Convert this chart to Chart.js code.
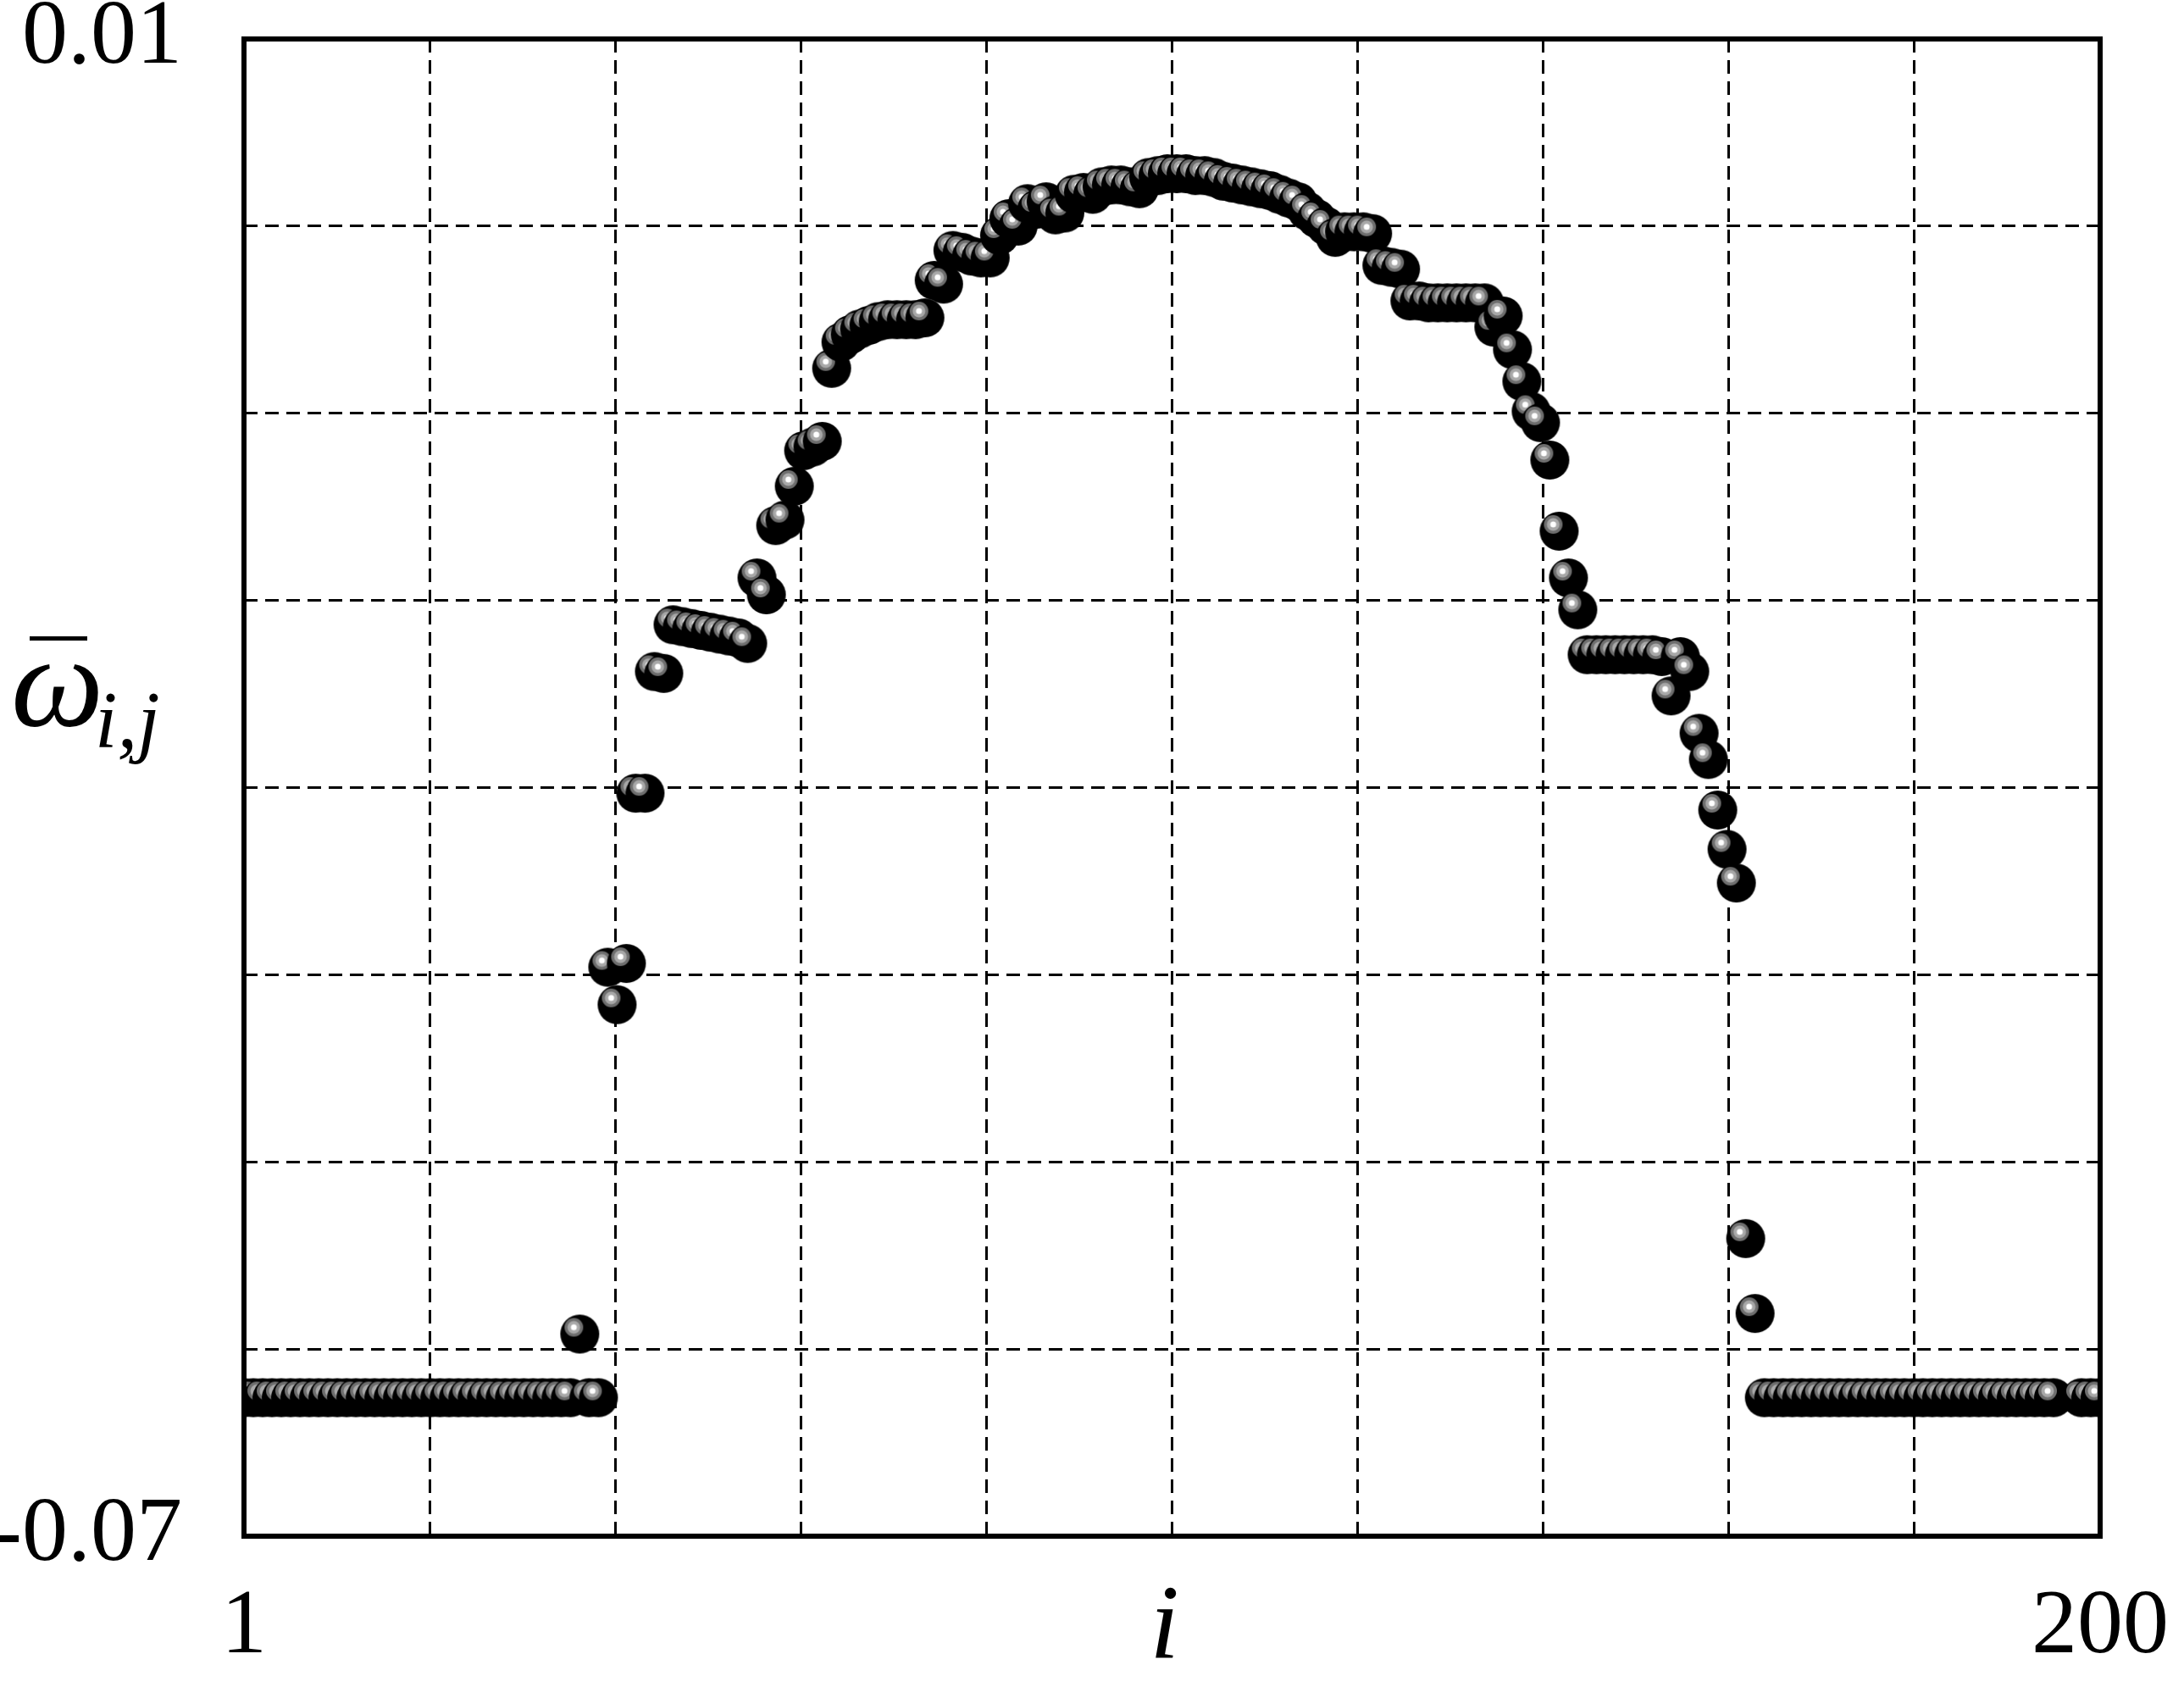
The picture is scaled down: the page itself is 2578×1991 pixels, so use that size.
<!DOCTYPE html>
<html>
<head>
<meta charset="utf-8">
<script src="https://cdn.jsdelivr.net/npm/chart.js@4.4.1/dist/chart.umd.min.js"></script>
<style>
  html, body { margin: 0; padding: 0; background: #fff; }
  #wrap { width: 2578px; height: 1991px; position: relative; }
</style>
</head>
<body>
<div id="wrap"><canvas id="chart"></canvas></div>
<script>
// omega_ij, index i = 1..200, split by region
// i = 1..36
const flatLeft = [
  -0.0626, -0.0626, -0.0626, -0.0626, -0.0626, -0.0626, -0.0626, -0.0626, -0.0626, -0.0626,
  -0.0626, -0.0626, -0.0626, -0.0626, -0.0626, -0.0626, -0.0626, -0.0626, -0.0626, -0.0626,
  -0.0626, -0.0626, -0.0626, -0.0626, -0.0626, -0.0626, -0.0626, -0.0626, -0.0626, -0.0626,
  -0.0626, -0.0626, -0.0626, -0.0626, -0.0626, -0.0626
];
// i = 37..81
const riseLeft = [
  -0.0592, -0.0626, -0.0626, -0.0396, -0.0416, -0.0394, -0.0303, -0.0303, -0.0238, -0.0239,
  -0.0213, -0.0214, -0.0215, -0.0216, -0.0217, -0.0218, -0.0219, -0.0220, -0.0223, -0.0188,
  -0.0197, -0.0160, -0.0157, -0.0139, -0.0120, -0.0118, -0.0115, -0.0076, -0.0062, -0.0058,
  -0.0055, -0.0053, -0.0051, -0.0050, -0.0050, -0.0050, -0.0050, -0.0049, -0.0029, -0.0031,
  -0.0013, -0.0014, -0.0016, -0.0017, -0.0017
];
// i = 82..136
const arcTop = [
  -0.0005, 0.0004, 0.0000, 0.0012, 0.0009, 0.0013, 0.0006, 0.0007, 0.0017, 0.0018,
  0.0017, 0.0021, 0.0022, 0.0022, 0.0021, 0.0020, 0.0026, 0.0027, 0.0028, 0.0028,
  0.0028, 0.0027, 0.0027, 0.0026, 0.0024, 0.0023, 0.0022, 0.0021, 0.0020, 0.0019,
  0.0017, 0.0015, 0.0013, 0.0008, 0.0004, 0.0000, -0.0006, -0.0003, -0.0003, -0.0003,
  -0.0004, -0.0021, -0.0022, -0.0023, -0.0040, -0.0040, -0.0041, -0.0041, -0.0041, -0.0041,
  -0.0041, -0.0041, -0.0041, -0.0054, -0.0048
];
// i = 137..163
const fallRight = [
  -0.0066, -0.0083, -0.0099, -0.0105, -0.0125, -0.0163, -0.0188, -0.0205, -0.0229, -0.0229,
  -0.0229, -0.0229, -0.0229, -0.0229, -0.0229, -0.0229, -0.0230, -0.0251, -0.0230, -0.0238,
  -0.0271, -0.0285, -0.0312, -0.0333, -0.0351, -0.0541, -0.0581
];
// i = 164..200 (196, 197 have no marker)
const flatRight = [
  -0.0626, -0.0626, -0.0626, -0.0626, -0.0626, -0.0626, -0.0626, -0.0626, -0.0626, -0.0626,
  -0.0626, -0.0626, -0.0626, -0.0626, -0.0626, -0.0626, -0.0626, -0.0626, -0.0626, -0.0626,
  -0.0626, -0.0626, -0.0626, -0.0626, -0.0626, -0.0626, -0.0626, -0.0626, -0.0626, -0.0626,
  -0.0626, -0.0626, null, null, -0.0626, -0.0626, -0.0626
];

const xTickValues = [1, 20.9, 40.8, 60.7, 80.6, 100.5, 120.4, 140.3, 160.2, 180.1, 200];
const yTickValues = [-0.07, -0.06, -0.05, -0.04, -0.03, -0.02, -0.01, 0, 0.01];

const omega = [].concat(flatLeft, riseLeft, arcTop, fallRight, flatRight);
const points = omega.map((v, k) => ({ x: k + 1, y: v }));

// black sphere with a grey/white highlight up-left
function makeBall(r) {
  const c = document.createElement('canvas');
  c.width = c.height = 2 * r + 2;
  const g = c.getContext('2d');
  const cx = r + 1, cy = r + 1;
  g.fillStyle = '#000';
  g.beginPath(); g.arc(cx, cy, r, 0, Math.PI * 2); g.fill();
  const hx = cx - 7, hy = cy - 8;
  [[11, '#6e6e6e'], [7.5, '#a8a8a8'], [3.5, '#ffffff']].forEach(([rr, col]) => {
    g.fillStyle = col;
    g.beginPath(); g.arc(hx, hy, rr, 0, Math.PI * 2); g.fill();
  });
  return c;
}
const ball = makeBall(23);

const FONT = '"Liberation Serif", "Times New Roman", serif';

const framePlugin = {
  id: 'frame',
  afterDatasetsDraw(chart) {
    const { ctx, chartArea: a } = chart;
    ctx.save();
    ctx.strokeStyle = '#000';
    ctx.lineWidth = 6;
    ctx.strokeRect(a.left, a.top, a.right - a.left, a.bottom - a.top);
    ctx.restore();
  }
};

const titlePlugin = {
  id: 'titles',
  afterDraw(chart) {
    const { ctx, chartArea: a } = chart;
    ctx.save();
    ctx.fillStyle = '#000';
    ctx.textBaseline = 'alphabetic';
    // y title: omega bar, subscript i,j
    ctx.font = 'italic 155px ' + FONT;
    ctx.fillText('ω', 13, 856);
    ctx.fillRect(35, 751, 68, 5);
    ctx.font = 'italic 95px ' + FONT;
    ctx.fillText('i,j', 112, 882);
    // x title
    ctx.font = 'italic 125px ' + FONT;
    ctx.textAlign = 'center';
    ctx.fillText('i', (a.left + a.right) / 2 - 9, 1957);
    ctx.restore();
  }
};

new Chart(document.getElementById('chart'), {
  type: 'scatter',
  data: {
    datasets: [{
      data: points,
      pointStyle: ball,
      pointRadius: 23,
      pointHoverRadius: 23,
      clip: 0,
      showLine: false
    }]
  },
  options: {
    responsive: true,
    maintainAspectRatio: false,
    animation: false,
    events: [],
    layout: { padding: { top: 46, right: 99, bottom: 0, left: 0 } },
    plugins: { legend: { display: false }, tooltip: { enabled: false } },
    scales: {
      x: {
        type: 'linear', min: 1, max: 200,
        afterBuildTicks: ax => { ax.ticks = xTickValues.map(v => ({ value: v })); },
        afterFit: s => { s.height = 178; s.paddingLeft = 0; s.paddingRight = 0; },
        grid: { color: '#000', lineWidth: 3, drawTicks: false },
        border: { display: false, dash: [16, 9] },
        ticks: {
          color: '#000', padding: 44, maxRotation: 0, autoSkip: false,
          font: { family: FONT, size: 108 },
          callback: (v, i, t) => (i === 0 || i === t.length - 1) ? String(v) : ''
        }
      },
      y: {
        type: 'linear', min: -0.07, max: 0.01,
        afterBuildTicks: ax => { ax.ticks = yTickValues.map(v => ({ value: v })); },
        afterFit: s => { s.width = 288; s.paddingTop = 0; s.paddingBottom = 0; },
        grid: { color: '#000', lineWidth: 3, drawTicks: false },
        border: { display: false, dash: [16, 9] },
        ticks: {
          color: '#000', padding: 73, autoSkip: false,
          font: { family: FONT, size: 108 },
          callback: (v, i, t) => (i === 0 || i === t.length - 1) ? v.toFixed(2) : ''
        }
      }
    }
  },
  plugins: [framePlugin, titlePlugin]
});
</script>
</body>
</html>
